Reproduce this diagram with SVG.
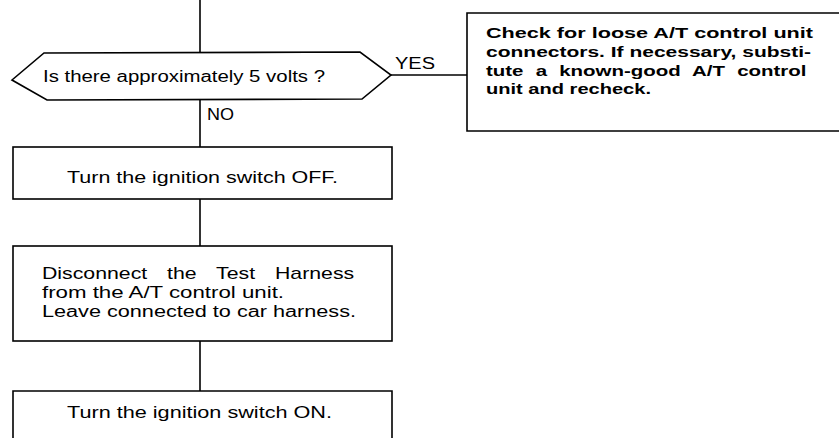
<svg xmlns="http://www.w3.org/2000/svg" width="839" height="438" viewBox="0 0 839 438">
<style>
.shape{fill:#fff;stroke:#000;stroke-width:1.6;stroke-linejoin:miter}
.line{fill:none;stroke:#000;stroke-width:1.6}
.t{font-family:"Liberation Sans",Arial,sans-serif;font-size:16px;fill:#000}
.b{font-family:"Liberation Sans",Arial,sans-serif;font-size:15.5px;font-weight:bold;fill:#000}
</style>
<rect width="839" height="438" fill="#fff"/>
<g id="connectors">
<line class="line" x1="200" y1="0" x2="200" y2="53"/>
<line class="line" x1="200" y1="99" x2="200" y2="147"/>
<line class="line" x1="200" y1="199" x2="200" y2="246"/>
<line class="line" x1="200" y1="341" x2="200" y2="391"/>
<line class="line" x1="391" y1="75" x2="467" y2="75"/>
<text class="t" x="395" y="69" textLength="40" lengthAdjust="spacingAndGlyphs">YES</text>
<text class="t" x="207" y="120" textLength="27" lengthAdjust="spacingAndGlyphs">NO</text>
</g>
<g id="decision">
<polygon class="shape" points="12,80 44,53 360,52 391,75 362,99 47,100"/>
<text class="t" x="43" y="82" textLength="282" lengthAdjust="spacingAndGlyphs">Is there approximately 5 volts ?</text>
</g>
<g id="check-box">
<polyline class="shape" points="850,13 467,13 467,131 850,131"/>
<text class="b" x="486" y="38" textLength="327" lengthAdjust="spacingAndGlyphs">Check for loose A/T control unit</text>
<text class="b" x="486" y="57" textLength="325" lengthAdjust="spacingAndGlyphs">connectors. If necessary, substi-</text>
<text class="b" transform="translate(486,76) scale(1.32,1)" x="0" y="0" word-spacing="4.9">tute a known-good A/T control</text>
<text class="b" x="486" y="94" textLength="165" lengthAdjust="spacingAndGlyphs">unit and recheck.</text>
</g>
<g id="ign-off">
<rect class="shape" x="13" y="147" width="379" height="52"/>
<text class="t" x="67" y="183" textLength="271" lengthAdjust="spacingAndGlyphs">Turn the ignition switch OFF.</text>
</g>
<g id="disconnect">
<rect class="shape" x="13" y="246" width="379" height="95"/>
<text class="t" transform="translate(42,279) scale(1.33,1)" x="0" y="0" word-spacing="10.5">Disconnect the Test Harness</text>
<text class="t" x="42" y="298" textLength="242" lengthAdjust="spacingAndGlyphs">from the A/T control unit.</text>
<text class="t" x="42" y="317" textLength="314" lengthAdjust="spacingAndGlyphs">Leave connected to car harness.</text>
</g>
<g id="ign-on">
<polyline class="shape" points="13,445 13,391 392,391 392,445"/>
<text class="t" x="67" y="418" textLength="265" lengthAdjust="spacingAndGlyphs">Turn the ignition switch ON.</text>
</g>
</svg>
